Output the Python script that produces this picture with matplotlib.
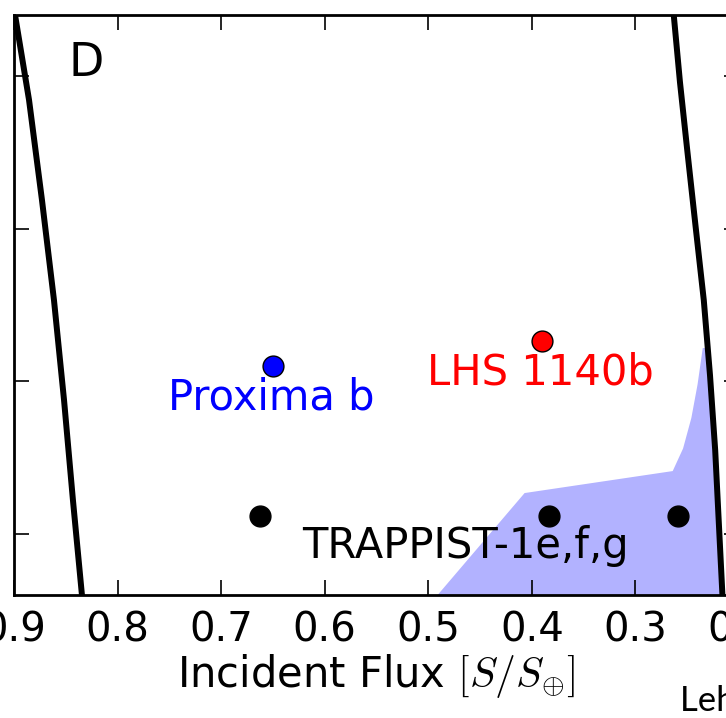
import matplotlib
matplotlib.use("Agg")
import matplotlib.pyplot as plt

plt.rcParams['mathtext.fontset'] = 'cm'
plt.rcParams['font.family'] = 'DejaVu Sans'

# Inner edge (runaway greenhouse): flux, Teff
inner_flux = [0.899, 0.8855, 0.873, 0.8614, 0.8517, 0.8431, 0.8344]
inner_teff = [4200, 3922, 3594, 3266, 2939, 2611, 2300]

# Outer edge (maximum greenhouse)
outer_flux = [0.263, 0.257, 0.250, 0.242, 0.234, 0.228, 0.223, 0.216]
outer_teff = [4200, 3980, 3758, 3510, 3266, 3020, 2775, 2300]

# Shaded region outline
shade_flux = [0.491, 0.407, 0.264, 0.254, 0.246, 0.240, 0.235, 0.231, 0.223, 0.216]
shade_teff = [2300, 2634, 2706, 2780, 2880, 2990, 3109, 3109, 2775, 2300]

# Planets
trappist_flux = [0.6625, 0.3836, 0.2591]
trappist_teff = [2559, 2559, 2559]
proxima_flux, proxima_teff = 0.650, 3050
lhs_flux, lhs_teff = 0.390, 3131

xticks = [0.9, 0.8, 0.7, 0.6, 0.5, 0.4, 0.3, 0.2]
yticks = [2500, 3000, 3500, 4000]

fig = plt.figure(figsize=(7.26, 7.18), dpi=100)
ax = fig.add_axes([14 / 726, 123 / 718, 725 / 726, 580 / 718])

ax.fill(shade_flux, shade_teff, color='blue', alpha=0.3, lw=0, zorder=1)
ax.plot(inner_flux, inner_teff, color='black', lw=4.3, zorder=2)
ax.plot(outer_flux, outer_teff, color='black', lw=4.3, zorder=2)

ax.plot(trappist_flux, trappist_teff, 'o', color='black', ms=15, mec='black', mew=1, zorder=3)
ax.plot([proxima_flux], [proxima_teff], 'o', color='blue', ms=15, mec='black', mew=1, zorder=3)
ax.plot([lhs_flux], [lhs_teff], 'o', color='red', ms=15, mec='black', mew=1, zorder=3)

ax.annotate('Proxima b', (proxima_flux, proxima_teff), xytext=(-1.5, -31),
            textcoords='offset points', ha='center', va='baseline',
            color='blue', fontsize=30)
ax.annotate('LHS 1140b', (lhs_flux, lhs_teff), xytext=(-1.5, -31),
            textcoords='offset points', ha='center', va='baseline',
            color='red', fontsize=30)
ax.annotate('TRAPPIST-1e,f,g', (trappist_flux[1], trappist_teff[1]), xytext=(-60, -30),
            textcoords='offset points', ha='center', va='baseline',
            color='black', fontsize=30)
ax.text(0.0745, 0.895, 'D', transform=ax.transAxes, fontsize=33,
        ha='left', va='baseline')

ax.set_xlim(0.9, 0.2)
ax.set_ylim(2300, 4200)
ax.set_xticks(xticks)
ax.set_yticks(yticks)
ax.tick_params(direction='in', length=11, width=1.2, top=True, right=True,
               labelsize=29, pad=11, labelleft=False)
for s in ax.spines.values():
    s.set_linewidth(2)
ax.set_xlabel(r'Incident Flux $[S/S_{\oplus}]$', fontsize=30, labelpad=1)

fig.text(680 / 726, 1 - 711 / 718, 'Lehmer et al. 2018', fontsize=25,
         family='Lato', ha='left', va='baseline')

fig.savefig('out.png', dpi=100)
